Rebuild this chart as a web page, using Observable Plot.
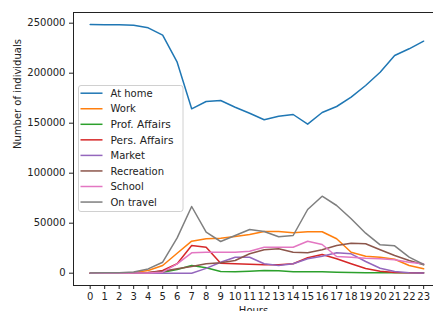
<!DOCTYPE html>
<html>
<head>
<meta charset="utf-8">
<script src="https://cdn.jsdelivr.net/npm/d3@7"></script>
<script src="https://cdn.jsdelivr.net/npm/@observablehq/plot@0.6"></script>
<style>
  html, body { margin: 0; padding: 0; background: #fff; }
  #wrap { position: relative; width: 433px; height: 311px; overflow: hidden; }
  #legend { position: absolute; left: 0; top: 0; }
</style>
</head>
<body>
<div id="wrap"></div>
<script>
const hours = d3.range(0, 24);
const seriesNames = ["At home", "Work", "Prof. Affairs", "Pers. Affairs", "Market", "Recreation", "School", "On travel"];
const colors = ["#1f77b4", "#ff7f0e", "#2ca02c", "#d62728", "#9467bd", "#8c564b", "#e377c2", "#7f7f7f"];

const atHome = [248700, 248400, 248400, 248000, 245400, 238000, 211000, 164400, 171700, 172700, 166000, 160000, 153400, 157000, 158700, 149000, 160700, 166700, 176000, 187700, 201000, 217700, 224400, 232000];
const work = [0, 100, 300, 800, 2700, 7700, 20000, 32000, 34400, 35000, 36700, 38700, 41700, 41700, 40400, 41400, 41400, 34400, 21000, 17000, 16000, 14000, 7700, 4400];
const profAffairs = [0, 0, 0, 100, 300, 1000, 3700, 7700, 5400, 1700, 1400, 2000, 2700, 2400, 1400, 1400, 1400, 1000, 700, 500, 500, 500, 400, 400];
const persAffairs = [0, 0, 100, 200, 500, 2700, 9400, 27700, 26000, 10000, 9400, 9000, 8400, 8400, 9400, 15400, 18700, 14400, 9400, 4700, 2000, 700, 400, 300];
const market = [0, 0, 0, 0, 0, 0, 0, 0, 4800, 11000, 16000, 16000, 9400, 7700, 9400, 14400, 17000, 20400, 19400, 11700, 5000, 1700, 500, 300];
const recreation = [0, 0, 100, 300, 800, 2000, 4400, 6700, 9400, 10400, 12700, 19400, 23400, 24400, 21000, 20400, 23400, 27700, 30000, 29400, 23400, 17700, 12700, 8400];
const school = [0, 0, 0, 100, 300, 1000, 9400, 20400, 21000, 21000, 21000, 22000, 26000, 26000, 26000, 32000, 28700, 16700, 16000, 15000, 14400, 13400, 11000, 9400];
const onTravel = [300, 400, 500, 1300, 4300, 11000, 35300, 66700, 41000, 31700, 37700, 43700, 41700, 36400, 37700, 63700, 77000, 67700, 54400, 40000, 28400, 27400, 16000, 8700];

const seriesValues = [atHome, work, profAffairs, persAffairs, market, recreation, school, onTravel];
const yTicks = [0, 50000, 100000, 150000, 200000, 250000];

const table = [];
seriesNames.forEach((name, i) => {
  hours.forEach((h, j) => table.push({series: name, hour: h, value: seriesValues[i][j]}));
});

const xDomain = [-1.15, 23.68];
const yDomain = [-12300, 260700];

const chart = Plot.plot({
  width: 433,
  height: 311,
  marginLeft: 73,
  marginRight: 0,
  marginTop: 12,
  marginBottom: 26,
  style: {fontFamily: "DejaVu Sans", fontSize: "10px", color: "#222", background: "#fff"},
  x: {domain: xDomain, ticks: hours, tickFormat: d => String(d), label: null},
  y: {domain: yDomain, ticks: yTicks, tickFormat: d => String(d), label: null},
  color: {domain: seriesNames, range: colors},
  marks: [
    Plot.axisX({ticks: hours, tickFormat: d => String(d), tickSize: 4, tickPadding: 3.5, label: null, fontSize: 10, stroke: "#222"}),
    Plot.axisY({ticks: yTicks, tickFormat: d => String(d), tickSize: 4, tickPadding: 4, label: null, fontSize: 10, stroke: "#222"}),
    Plot.lineY(table, {x: "hour", y: "value", z: "series", stroke: "series", strokeWidth: 1.5, curve: "linear"}),
    Plot.ruleX([xDomain[0]], {stroke: "#222", strokeWidth: 1}),
    Plot.ruleY([yDomain[0]], {stroke: "#222", strokeWidth: 1}),
    Plot.ruleY([yDomain[1]], {stroke: "#222", strokeWidth: 1}),
    Plot.text(["Hours"], {frameAnchor: "bottom", lineAnchor: "top", dy: 21, fontSize: 10, fill: "#222"}),
    Plot.text(["Number of individuals"], {frameAnchor: "left", rotate: -90, dx: -56, fontSize: 10, fill: "#222"})
  ]
});

const wrap = document.getElementById("wrap");
wrap.appendChild(chart);

// Legend overlay
const lg = d3.select(wrap).append("svg")
  .attr("id", "legend")
  .attr("width", 433).attr("height", 311)
  .style("font-family", "DejaVu Sans");
const box = {x: 78.5, y: 85.5, w: 104.5, h: 126};
lg.append("rect")
  .attr("x", box.x).attr("y", box.y).attr("width", box.w).attr("height", box.h)
  .attr("rx", 2.5).attr("fill", "#fff").attr("fill-opacity", 0.8)
  .attr("stroke", "#d0d0d0").attr("stroke-width", 1);
const rowH = 15.55;
const bigger = new Set(["Prof. Affairs", "Pers. Affairs"]);
seriesNames.forEach((name, i) => {
  const cy = 93.2 + i * rowH;
  lg.append("line")
    .attr("x1", 80.5).attr("x2", 102.5).attr("y1", cy).attr("y2", cy)
    .attr("stroke", colors[i]).attr("stroke-width", 1.5);
  lg.append("text")
    .attr("x", 110.5).attr("y", cy)
    .attr("dy", "0.36em")
    .attr("font-size", bigger.has(name) ? 10.6 : 10)
    .attr("fill", "#222")
    .text(name);
});
</script>
</body>
</html>
